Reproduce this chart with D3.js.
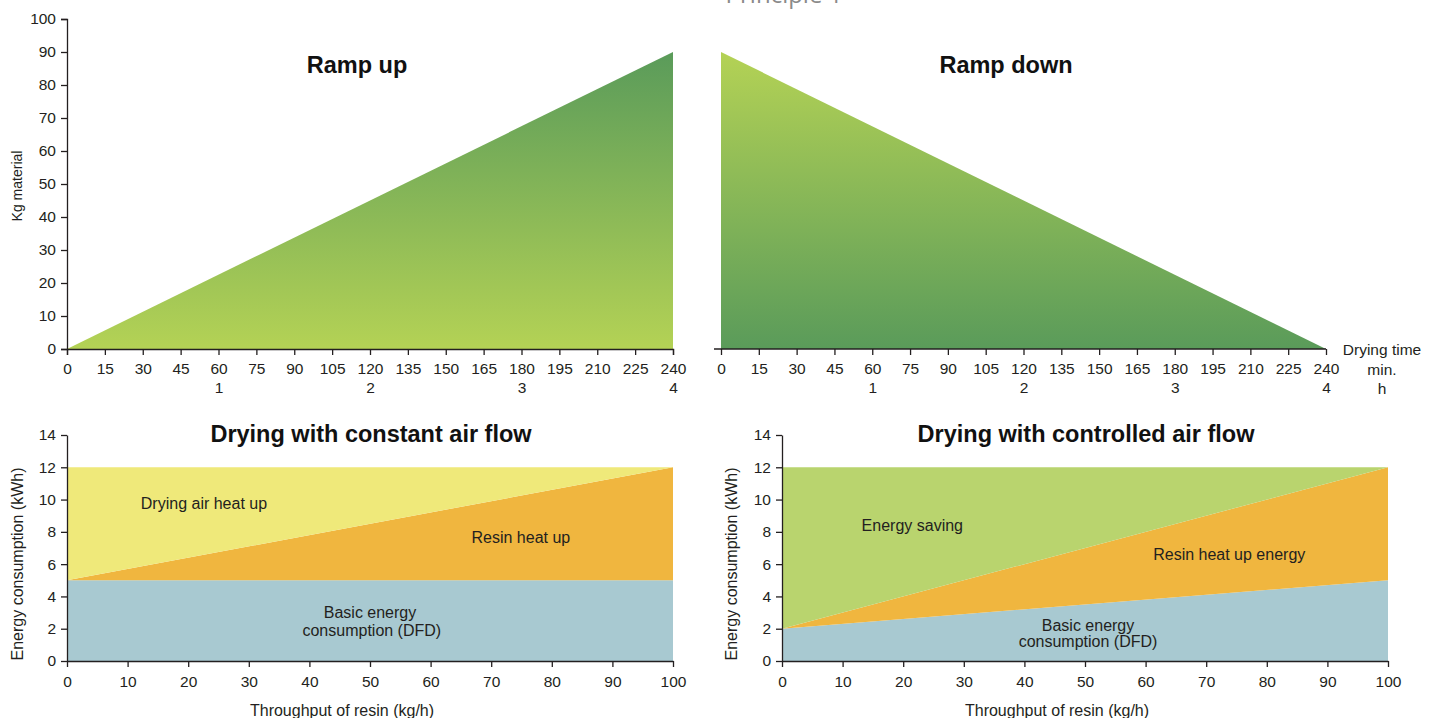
<!DOCTYPE html>
<html>
<head>
<meta charset="utf-8">
<script src="https://cdn.jsdelivr.net/npm/d3@7"></script>
<style>
  body { margin: 0; background: #fff; }
  svg { font-family: "Liberation Sans", Arial, sans-serif; }
  .tick text { font-size: 15.5px; fill: #231f20; }
  .domain, .tick line { stroke: #231f20; stroke-width: 1.3; }
</style>
</head>
<body>
<div id="chart"></div>
<script>
// ramp charts
const rampMinutes = [0, 240];
const rampUpKg = [0, 90];
const rampDownKg = [90, 0];
const minuteTicks = [0, 15, 30, 45, 60, 75, 90, 105, 120, 135, 150, 165, 180, 195, 210, 225, 240];
const hourTicks = [60, 120, 180, 240];
const hourLabels = ["1", "2", "3", "4"];
const kgTicks = [0, 10, 20, 30, 40, 50, 60, 70, 80, 90, 100];

// energy charts
const throughput = [0, 100];
const throughputTicks = [0, 10, 20, 30, 40, 50, 60, 70, 80, 90, 100];
const energyTicks = [0, 2, 4, 6, 8, 10, 12, 14];
const constBasic = [5, 5];
const constResin = [5, 12];
const constTotal = [12, 12];
const ctrlBasic = [2, 5];
const ctrlResin = [2, 12];
const ctrlTotal = [12, 12];

const W = 1437, H = 718;
const svg = d3.select('#chart').append('svg').attr('width', W).attr('height', H);

svg.append('text').attr('x', 784).attr('y', 3).attr('text-anchor', 'middle')
  .style('font-family', '"Open Sans", sans-serif').style('font-size', '24px').style('fill', '#8a8a8a')
  .text('Principle 1');

const defs = svg.append('defs');
function grad(id, topColor, bottomColor) {
  const g = defs.append('linearGradient').attr('id', id)
    .attr('gradientUnits', 'userSpaceOnUse').attr('x1', 0).attr('x2', 0).attr('y1', 52).attr('y2', 349);
  g.append('stop').attr('offset', 0).attr('stop-color', topColor);
  g.append('stop').attr('offset', 1).attr('stop-color', bottomColor);
}
grad('gUp', '#5a9b5a', '#b4d255');
grad('gDown', '#b4d255', '#5a9b5a');

// ---- top charts
const yKg = d3.scaleLinear().domain([0, 100]).range([349, 19]);
const xUp = d3.scaleLinear().domain([0, 240]).range([67, 673]);
const xDown = d3.scaleLinear().domain([0, 240]).range([721, 1326]);

function ramp(x, vals, fill, title, titleX) {
  const pts = rampMinutes.map((m, i) => [m, vals[i]]);
  const area = d3.area().x(d => x(d[0])).y0(yKg(0)).y1(d => yKg(d[1]));
  svg.append('path').attr('d', area(pts)).attr('fill', `url(#${fill})`);

  const ax = svg.append('g').attr('transform', `translate(0,${yKg(0)})`)
    .call(d3.axisBottom(x).tickValues(minuteTicks).tickSizeOuter(0).tickSize(6).tickPadding(8));
  const ah = svg.append('g').attr('transform', `translate(0,${yKg(0)})`)
    .call(d3.axisBottom(x).tickValues(hourTicks).tickFormat((d, i) => hourLabels[i]).tickSize(0).tickPadding(33));
  ah.select('.domain').remove();

  svg.append('text').attr('x', titleX).attr('y', 72.5)
    .attr('text-anchor', 'middle').style('font-size', '23.5px').style('font-weight', 'bold').style('fill', '#111')
    .text(title);
  return ax;
}

ramp(xUp, rampUpKg, 'gUp', 'Ramp up', 357);
const axDown = ramp(xDown, rampDownKg, 'gDown', 'Ramp down', 1006);
axDown.select('.domain').attr('d', `M${714},0H${xDown(240)}`);

svg.append('g').attr('transform', `translate(${xUp(0)},0)`)
  .call(d3.axisLeft(yKg).tickValues(kgTicks).tickSize(6).tickPadding(5));

svg.append('text').attr('transform', `translate(22,${186}) rotate(-90)`)
  .attr('text-anchor', 'middle').style('font-size', '14px').style('fill', '#231f20').text('Kg material');

[['Drying time', 354.5], ['min.', 374.5], ['h', 393.5]].forEach(([t, y]) => {
  svg.append('text').attr('x', 1382).attr('y', y).attr('text-anchor', 'middle')
    .style('font-size', '15.5px').style('fill', '#231f20').text(t);
});

// ---- bottom charts
const yE = d3.scaleLinear().domain([0, 14]).range([661, 435]);

function energy(x0, x1, layers, title, labels, ylabX) {
  const x = d3.scaleLinear().domain([0, 100]).range([x0, x1]);
  layers.forEach(l => {
    const pts = throughput.map((t, i) => ({ t, lo: l.lo[i], hi: l.hi[i] }));
    const area = d3.area().x(d => x(d.t)).y0(d => yE(d.lo)).y1(d => yE(d.hi));
    svg.append('path').attr('d', area(pts)).attr('fill', l.color);
  });
  svg.append('g').attr('transform', `translate(0,${yE(0)})`)
    .call(d3.axisBottom(x).tickValues(throughputTicks).tickSize(6).tickSizeOuter(0).tickPadding(9));
  svg.append('g').attr('transform', `translate(${x0},0)`)
    .call(d3.axisLeft(yE).tickValues(energyTicks).tickSize(6).tickSizeOuter(0).tickPadding(5));
  svg.append('text').attr('x', x(50) + 1).attr('y', 441.5).attr('text-anchor', 'middle')
    .style('font-size', '23.5px').style('font-weight', 'bold').style('fill', '#111').text(title);
  svg.append('text').attr('x', x(50) - 28).attr('y', 715.5).attr('text-anchor', 'middle')
    .style('font-size', '16px').style('fill', '#231f20').text('Throughput of resin (kg/h)');
  svg.append('text').attr('transform', `translate(${ylabX},${564}) rotate(-90)`)
    .attr('text-anchor', 'middle').style('font-size', '16px').style('fill', '#231f20')
    .text('Energy consumption (kWh)');
  labels.forEach(lb => {
    svg.append('text').attr('x', x(lb.t)).attr('y', yE(lb.e)).attr('text-anchor', 'middle')
      .style('font-size', '16px').style('fill', '#231f20').text(lb.text);
  });
}

energy(67, 673, [
  { lo: [0, 0], hi: constBasic, color: '#a8c9d1' },
  { lo: constBasic, hi: constResin, color: '#f0b63f' },
  { lo: constResin, hi: constTotal, color: '#efe97a' }
], 'Drying with constant air flow', [
  { text: 'Drying air heat up', t: 22.6, e: 9.39 },
  { text: 'Resin heat up', t: 74.9, e: 7.28 },
  { text: 'Basic energy', t: 50, e: 2.69 },
  { text: 'consumption (DFD)', t: 50.3, e: 1.52 }
], 23);

energy(782, 1388, [
  { lo: [0, 0], hi: ctrlBasic, color: '#a8c9d1' },
  { lo: ctrlBasic, hi: ctrlResin, color: '#f0b63f' },
  { lo: ctrlResin, hi: ctrlTotal, color: '#b9d46e' }
], 'Drying with controlled air flow', [
  { text: 'Energy saving', t: 21.5, e: 8.08 },
  { text: 'Resin heat up energy', t: 73.8, e: 6.23 },
  { text: 'Basic energy', t: 50.5, e: 1.83 },
  { text: 'consumption (DFD)', t: 50.5, e: 0.84 }
], 737);
</script>
</body>
</html>
